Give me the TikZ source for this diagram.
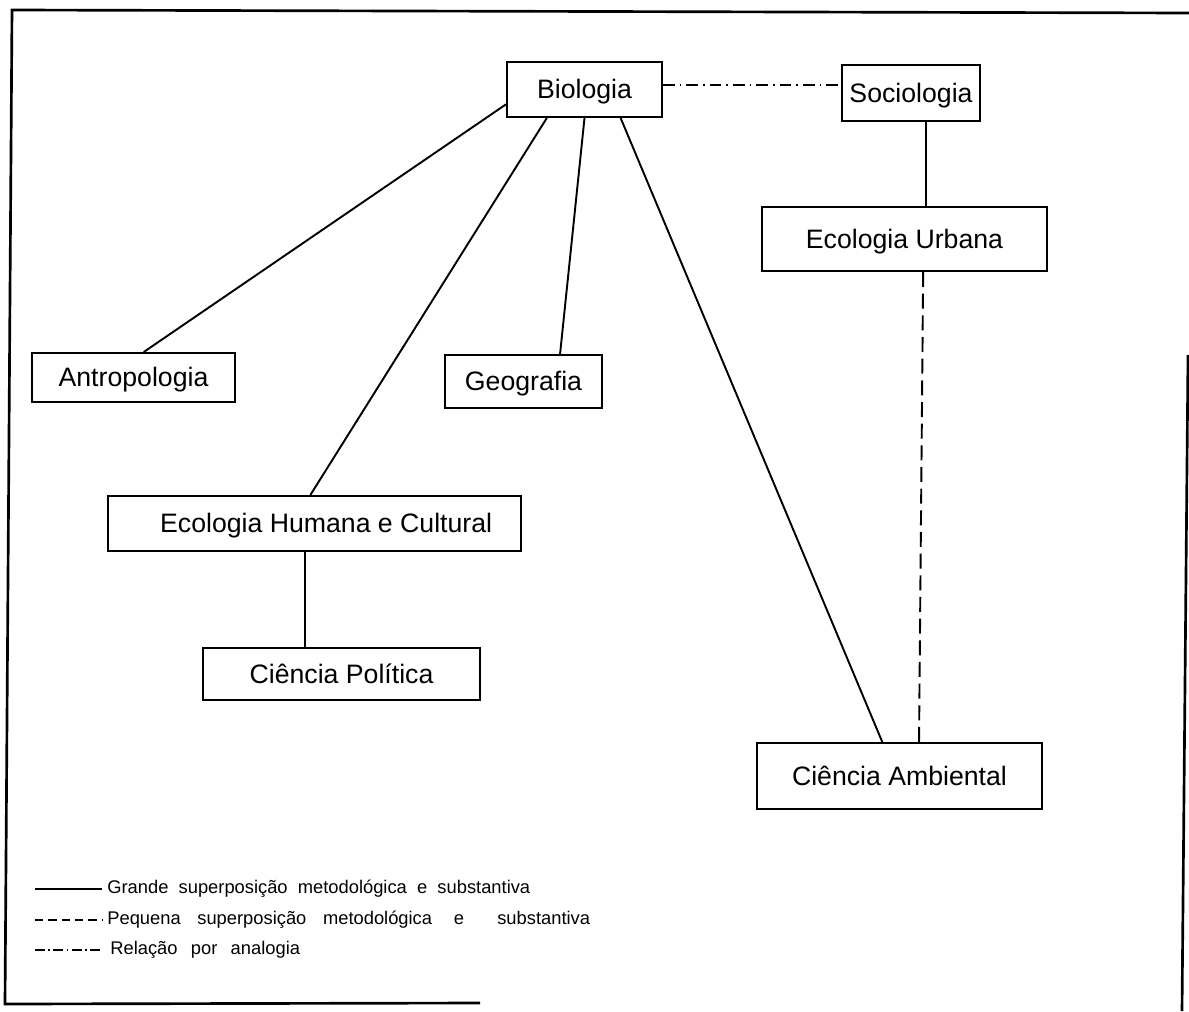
\documentclass[tikz,border=0pt]{standalone}
\usepackage{fontspec}
\setmainfont{Liberation Sans}
\usetikzlibrary{calc}
\begin{document}
\begin{tikzpicture}[x=0.6pt,y=-0.6pt,
  wh/.style 2 args={minimum width={#1*0.6pt},minimum height={#2*0.6pt}},
  box/.style={draw,line width=1.2pt,inner sep=0pt,text depth=0.5pt,font=\fontsize{16}{19}\selectfont},
  rel/.style={line width=1.15pt},
  weak/.style={line width=1.15pt,dash pattern=on 9pt off 4pt},
  analog/.style={line width=1.15pt,dash pattern=on 7pt off 3pt on 1pt off 3pt},
  frameline/.style={line width=1.6pt},
  leg/.style={anchor=west,inner sep=0pt,font=\fontsize{11}{13}\selectfont}]
\useasboundingbox (0,0) rectangle (1189,1011);

% frame
\coordinate (f1) at (12,10);
\coordinate (f2) at (1189,13);
\coordinate (f3) at (5,1004);
\coordinate (f4) at (480,1003);
\coordinate (f5) at (1188,355);
\coordinate (f6) at (1182,1011);
\draw[frameline] (f2) -- (f1) -- (f3) -- (f4);
\draw[frameline] (f5) -- (f6);

% boxes
\node[box,wh={155}{55}] (bio) at (584.5,89.5) {Biologia};
\node[box,wh={138}{56}] (soc) at (911,93) {Sociologia};
\node[box,wh={285}{64}] (eu) at (904.5,239) {Ecologia Urbana};
\node[box,wh={203}{49}] (ant) at (133.5,377.5) {Antropologia\hspace{8pt}};
\node[box,wh={157}{53}] (geo) at (523.5,381.5) {Geografia};
\node[box,wh={413}{55}] (ehc) at (314.5,523.5) {\hspace{14pt}Ecologia Humana e Cultural};
\node[box,wh={277}{52}] (cp) at (341.5,674) {Ciência Política};
\node[box,wh={285}{66}] (ca) at (899.5,776) {Ciência Ambiental};

% connectors
\draw[rel] ($(bio.north west)!0.76!(bio.south west)$) -- ($(ant.north west)!0.55!(ant.north east)$);
\draw[rel] ($(bio.south west)!0.26!(bio.south east)$) -- ($(ehc.north west)!0.49!(ehc.north east)$);
\draw[rel] (bio.south) -- ($(geo.north west)!0.73!(geo.north east)$);
\draw[rel] ($(bio.south west)!0.73!(bio.south east)$) -- ($(ca.north west)!0.44!(ca.north east)$);
\draw[analog] ($(bio.north east)!0.42!(bio.south east)$) coordinate (a1) -- (a1 -| soc.west);
\draw[rel] ($(soc.south west)!0.61!(soc.south east)$) coordinate (s1) -- (s1 |- eu.north);
\draw[rel] ($(ehc.south west)!0.477!(ehc.south east)$) coordinate (e1) -- (e1 |- cp.north);
\draw[weak] ($(eu.south west)!0.565!(eu.south east)$) -- ($(ca.north west)!0.568!(ca.north east)$);

% legend
\node[leg] (t1) at (107,889) {Grande\ \ superposição\ \ metodológica\ \ e\ \ substantiva};
\node[leg] (t2) at (107,920) {Pequena\hspace{10pt}superposição\hspace{10pt}metodológica\hspace{13pt}e\hspace{20pt}substantiva};
\node[leg] (t3) at (110,950) {Relação\hspace{8pt}por\hspace{8pt}analogia};
\coordinate (l1) at (35,889);
\coordinate (l2) at (35,920);
\coordinate (l3) at (35,950);
\draw[rel] (l1) -- ([xshift=-3pt]t1.west);
\draw[weak,dash pattern=on 5pt off 3pt] (l2) -- ([xshift=-3pt]t2.west);
\draw[analog,dash pattern=on 6pt off 2pt on 1pt off 2pt] (l3) -- ([xshift=-5pt]t3.west);
\end{tikzpicture}
\end{document}
